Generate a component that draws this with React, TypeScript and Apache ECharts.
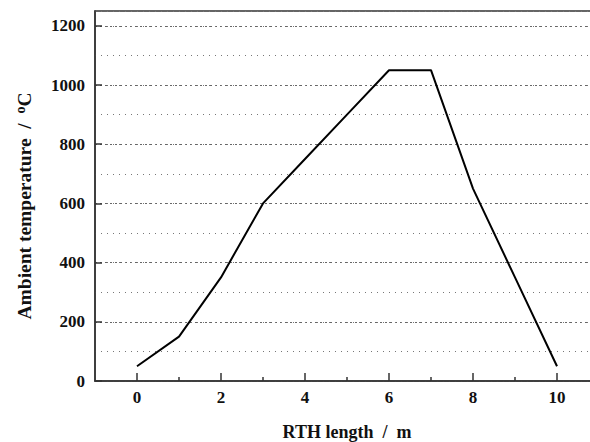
import React, { useEffect, useRef } from "react";
import * as echarts from "echarts";

const xValues = [0, 1, 2, 3, 4, 5, 6, 7, 8, 9, 10];
const temperature = [50, 150, 350, 600, 750, 900, 1050, 1050, 650, 350, 50];
const xMajorTicks = [0, 2, 4, 6, 8, 10];
const xMinorTicks = [1, 3, 5, 7, 9];

const FONT = "'Liberation Serif', 'Times New Roman', serif";

export default function App() {
  const ref = useRef<HTMLDivElement>(null);
  useEffect(() => {
    if (!ref.current) return;
    const chart = echarts.init(ref.current, undefined, { renderer: "svg" });
    const axisColor = "#333";
    chart.setOption({
      animation: false,
      backgroundColor: "#fff",
      grid: {
        left: 95,
        width: 504,
        top: 11,
        bottom: 61,
        containLabel: false,
        outerBoundsMode: "none",
        show: true,
        borderColor: axisColor,
        borderWidth: 1.5,
        backgroundColor: "transparent",
      },
      xAxis: [
        {
          type: "value",
          min: -1,
          max: 11,
          interval: 1,
          position: "bottom",
          axisLine: { show: true, onZero: false, lineStyle: { color: axisColor, width: 1.5 } },
          axisTick: {
            show: true,
            inside: true,
            length: 8,
            customValues: xMajorTicks,
            lineStyle: { color: axisColor, width: 1.5 },
          },
          axisLabel: {
            customValues: xMajorTicks,
            margin: 8,
            color: "#111",
            fontFamily: FONT,
            fontWeight: "bold",
            fontSize: 17,
          },
          splitLine: { show: false },
          name: "RTH length  /  m",
          nameLocation: "middle",
          nameGap: 42,
          nameTextStyle: { color: "#111", fontFamily: FONT, fontWeight: "bold", fontSize: 18 },
        },
        {
          type: "value",
          min: -1,
          max: 11,
          interval: 1,
          position: "bottom",
          axisLine: { show: false },
          axisTick: {
            show: true,
            inside: true,
            length: 4,
            customValues: xMinorTicks,
            lineStyle: { color: axisColor, width: 1.5 },
          },
          axisLabel: { show: false },
          splitLine: { show: false },
        },
      ],
      yAxis: [
        {
          type: "value",
          min: 0,
          max: 1250,
          interval: 200,
          axisLine: { show: true, onZero: false, lineStyle: { color: axisColor, width: 1.5 } },
          axisTick: { show: true, inside: true, length: 7, lineStyle: { color: axisColor, width: 1.5 } },
          axisLabel: {
            margin: 10,
            color: "#111",
            fontFamily: FONT,
            fontWeight: "bold",
            fontSize: 17,
            showMaxLabel: false,
            formatter: (v: number) => (v % 200 === 0 ? String(v) : ""),
          },
          splitLine: {
            show: true,
            lineStyle: { color: "#666", type: [2, 3], width: 1 },
          },
          name: "Ambient temperature  /  {sup|o}C",
          nameLocation: "middle",
          nameGap: 60,
          nameTextStyle: {
            color: "#111",
            fontFamily: FONT,
            fontWeight: "bold",
            fontSize: 19.5,
            padding: [0, 20, 0, 0],
            rich: {
              sup: {
                fontFamily: FONT,
                fontWeight: "bold",
                fontSize: 14,
                color: "#111",
                verticalAlign: "top",
                padding: [0, 0, 8, 0],
              },
            },
          },
        },
        {
          type: "value",
          min: 0,
          max: 1250,
          interval: 100,
          position: "left",
          axisLine: { show: false },
          axisTick: { show: false },
          axisLabel: { show: false },
          splitLine: {
            show: true,
            lineStyle: { color: "#777", type: [1, 5], width: 1 },
          },
        },
      ],
      series: [
        {
          type: "line",
          data: xValues.map((x, i) => [x, temperature[i]]),
          showSymbol: false,
          symbol: "none",
          lineStyle: { color: "#000", width: 2 },
          z: 5,
        },
      ],
    });
    return () => chart.dispose();
  }, []);
  return <div ref={ref} style={{ width: 590, height: 442, position: "absolute", left: 0, top: 0 }} />;
}
